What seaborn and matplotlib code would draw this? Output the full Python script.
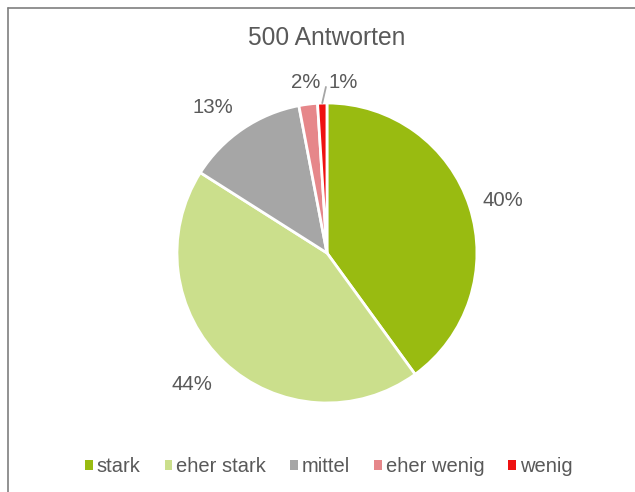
import numpy as np
import matplotlib
matplotlib.use("Agg")
import matplotlib.pyplot as plt
import seaborn as sns
from matplotlib.lines import Line2D
from matplotlib.patches import Patch

categories = ["stark", "eher stark", "mittel", "eher wenig", "wenig"]
values = [40, 44, 13, 2, 1]
labels = ["40%", "44%", "13%", "2%", "1%"]
colors = ["#99bb11", "#cbdf8c", "#a6a6a6", "#e6878a", "#ee1111"]
title = "500 Antworten"

sns.set_theme(style="white")
plt.rcParams['font.family'] = ['Liberation Sans', 'DejaVu Sans']
txt = "#595959"

fig = plt.figure(figsize=(6.35, 4.92), dpi=100)
ax = fig.add_axes([0.2787, 0.1809, 0.4724, 0.6098])
wedges, texts = ax.pie(values, colors=sns.color_palette(colors), startangle=90,
                       counterclock=False, labels=labels, labeldistance=1.24,
                       wedgeprops=dict(edgecolor="white", linewidth=2),
                       textprops=dict(color=txt, fontsize=14.7))
ax.set_xlim(-1, 1)
ax.set_ylim(-1, 1)
ax.set_aspect("equal")
for t in texts:
    t.set_ha("center")
    t.set_va("center")

# Excel-style label placement
texts[0].set_position((1.173, 0.35))
texts[1].set_position((-0.903, -0.88))
texts[2].set_position((-0.763, 0.967))
texts[3].set_position((-0.143, 1.137))
texts[4].set_position((0.107, 1.137))
w = wedges[4]
mid = np.deg2rad((w.theta1 + w.theta2) / 2)
ax.annotate("", xy=(np.cos(mid), np.sin(mid)), xytext=(-0.007, 1.107),
            arrowprops=dict(arrowstyle="-", color="#a6a6a6", lw=1.3,
                            shrinkA=0, shrinkB=0))

fig.text(0.514, 0.923, title, ha="center", va="center", fontsize=17.7, color=txt)

handles = [Patch(facecolor=c, edgecolor="none") for c in colors]
fig.legend(handles, categories, loc="center", bbox_to_anchor=(0.518, 0.051),
           ncol=5, frameon=False, fontsize=14.5, labelcolor=txt,
           handlelength=0.37, handleheight=0.37, handletextpad=0.2,
           columnspacing=1.2)

# frame (top and left visible)
fig.add_artist(Line2D([8/635, 1.0], [1-8/492, 1-8/492], color="#7f7f7f", lw=1.2,
                      transform=fig.transFigure))
fig.add_artist(Line2D([8/635, 8/635], [0, 1-8/492], color="#7f7f7f", lw=1.2,
                      transform=fig.transFigure))

fig.savefig("out.png", dpi=100)
